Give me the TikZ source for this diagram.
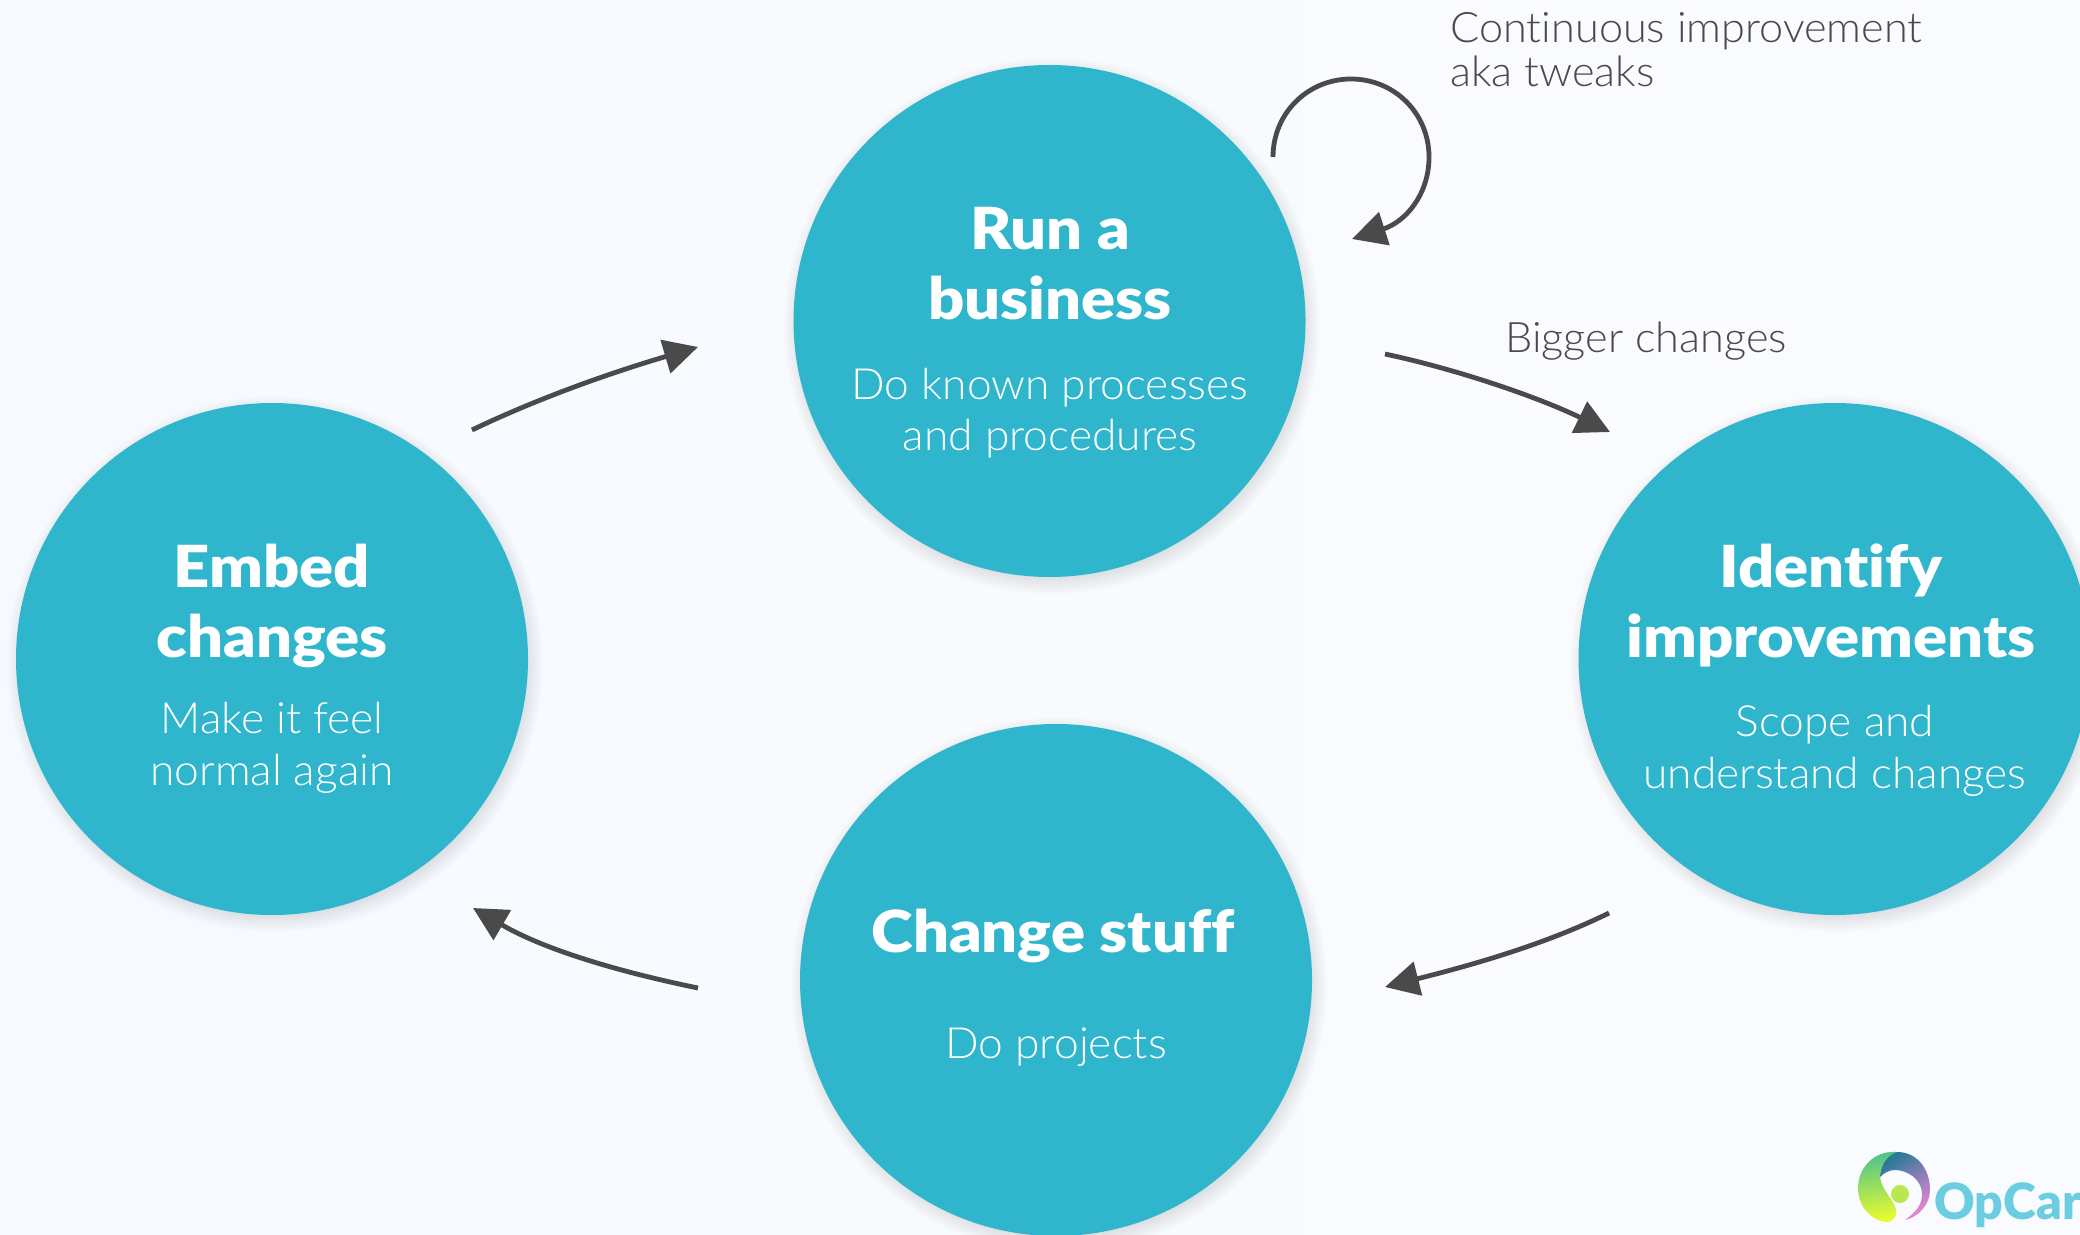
\documentclass[tikz,border=0pt]{standalone}
\usepackage{fontspec}
\setmainfont{Lato}
\newfontfamily\lightfont[FakeStretch=1.03,Ligatures=NoCommon]{Lato Light}
\newfontfamily\blackfont[FakeStretch=1.09,Ligatures=NoCommon]{Lato Black}
\newfontfamily\logofont[Ligatures=NoCommon]{Lato Black}
\usetikzlibrary{arrows.meta}
\definecolor{teal1}{HTML}{2FB5CC}
\definecolor{ink}{HTML}{4A4A4A}
\definecolor{bgA}{HTML}{F6FAFE}
\definecolor{bgB}{HTML}{FAFBFE}
\definecolor{logoText}{HTML}{6BCEE0}
\definecolor{logoG}{HTML}{4CC38F}
\definecolor{logoY}{HTML}{E8FB2E}
\definecolor{logoB}{HTML}{2A7A98}
\definecolor{logoP}{HTML}{9C7CF0}
\definecolor{logoK}{HTML}{E884D4}
\definecolor{logoD}{HTML}{B8E84F}
\newcommand{\softshadow}[2]{%
  \foreach \r in {268,266,264,262,260,258,256,254,252,250}{%
    \fill[black,opacity=0.013] (#1+3,#2+5) circle[radius=\r*0.5pt];}}
\tikzset{
  x=0.5pt,y=-0.5pt,
  disc/.style={circle,fill=teal1,minimum size=256pt,inner sep=0pt},
  title/.style={text=white,font=\blackfont\fontsize{29}{35}\selectfont,align=center,anchor=center},
  body/.style={text=white,font=\lightfont\fontsize{21.5}{25.8}\selectfont,align=center,anchor=center},
  label/.style={text=ink,font=\lightfont\fontsize{21}{22}\selectfont,align=left,anchor=north west,inner sep=0pt},
  flow/.style={draw=ink,line width=2.4pt,-{Triangle[length=17pt,width=17pt]},shorten >=0pt}
}
\begin{document}
\begin{tikzpicture}
\useasboundingbox (0,0) rectangle (2080,1235);
\clip (0,0) rectangle (2080,1235);
\shade[left color=bgA,right color=bgB] (0,0) rectangle (2080,1235);

\softshadow{1049}{321}
\softshadow{1835}{659}
\softshadow{272}{659}
\softshadow{1056}{980}

\node[disc] (run) at (1049.5,321) {};
\node[disc] (identify) at (1834.5,659) {};
\node[disc] (embed) at (272,659) {};
\node[disc] (change) at (1056,980) {};

\node[title] (runT) at (1050,263.5) {Run a\\business};
\node[body] (runB) at (1050,413) {Do known processes\\and procedures};
\node[title] (idT) at (1831,605) {Identify\\improvements};
\node[body] (idB) at (1835,751) {Scope and\\understand changes};
\node[title] (emT) at (272,606) {Embed\\changes};
\node[body] (emB) at (272,748) {Make it feel\\normal again};
\node[title] (chT) at (1053,936) {Change stuff};
\node[body] (chB) at (1056,1047) {Do projects};

\node[label] (tweaks) at (1450,12) {Continuous improvement\\aka tweaks};
\node[label] (bigger) at (1505,322) {Bigger changes};

\coordinate (loopS) at (1273,157);
\coordinate (loopE) at (1352,239);
\coordinate (a1) at (1385,354);
\coordinate (a2) at (1610,432);
\coordinate (b1) at (1609,913);
\coordinate (b2) at (1385,987);
\coordinate (c1) at (698,988);
\coordinate (c2) at (473,908);
\coordinate (d1) at (472,430);
\coordinate (d2) at (698,347);

\draw[flow] (loopS) .. controls (1273,113) and (1308,79) .. (1351,79)
  .. controls (1394,79) and (1429,113) .. (1429,157)
  .. controls (1429,195) and (1405,222) .. (loopE);
\draw[flow] (a1) .. controls (1460,370) and (1540,398) .. (a2);
\draw[flow] (b1) .. controls (1540,947) and (1460,968) .. (b2);
\draw[flow] (c1) .. controls (620,972) and (545,950) .. (c2);
\draw[flow] (d1) .. controls (545,395) and (620,370) .. (d2);

% logo
\shade[top color=logoG,bottom color=logoY,shading angle=10]
  (1897,1152) .. controls (1874,1150) and (1858,1168) .. (1858,1188)
  .. controls (1858,1206) and (1870,1220) .. (1886,1222)
  .. controls (1895,1222) and (1898,1214) .. (1895,1206)
  .. controls (1889,1195) and (1880,1186) .. (1880,1175)
  .. controls (1880,1165) and (1888,1157) .. (1897,1152) -- cycle;
\shade[left color=logoB,middle color=logoP,right color=logoK,shading angle=35]
  (1897,1152) .. controls (1918,1152) and (1930,1170) .. (1930,1190)
  .. controls (1930,1205) and (1918,1217) .. (1905,1220)
  .. controls (1916,1212) and (1922,1205) .. (1922,1194)
  .. controls (1922,1180) and (1908,1170) .. (1895,1170)
  .. controls (1889,1170) and (1884,1173) .. (1880,1177)
  .. controls (1880,1165) and (1888,1155) .. (1897,1152) -- cycle;
\fill[logoD] (1900,1194) circle[radius=4.5pt];
\node[text=logoText,font=\logofont\fontsize{25}{25}\selectfont,anchor=base west,inner sep=0pt] (logo) at (1934,1219) {OpCar};
\end{tikzpicture}
\end{document}
